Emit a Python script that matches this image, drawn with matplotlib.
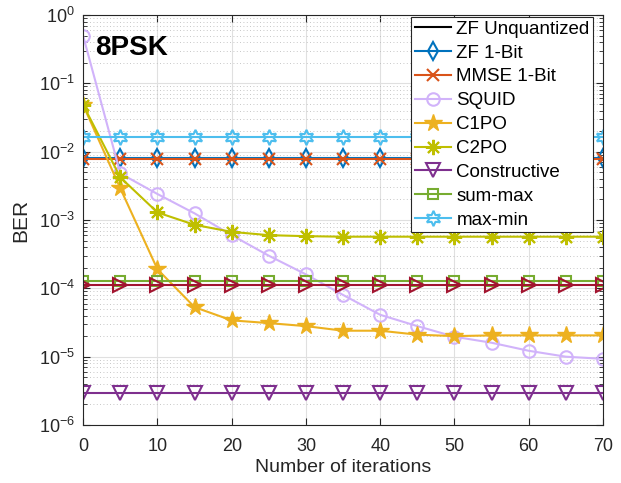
import numpy as np
import matplotlib.pyplot as plt

plt.rcParams['font.family'] = ['Liberation Sans', 'DejaVu Sans']

# iterations where the markers sit
iters = np.arange(0, 75, 5)

# BER values
zf_unq = [np.nan] * len(iters)          # below the plotted range
zf_1bit = [0.0082] * len(iters)
mmse_1bit = [0.0079] * len(iters)
squid = [0.49, 0.0048, 0.0024, 0.00125, 0.0006, 0.00030, 0.00016, 8.0e-5,
         4.1e-5, 2.8e-5, 1.96e-5, 1.6e-5, 1.22e-5, 1.0e-5, 9.3e-6]
c1po = [0.048, 0.0029, 0.00019, 5.3e-5, 3.4e-5, 3.1e-5, 2.8e-5, 2.4e-5,
        2.4e-5, 2.1e-5, 2.0e-5, 2.05e-5, 2.05e-5, 2.05e-5, 2.05e-5]
c2po = [0.048, 0.0042, 0.00129, 0.00085, 0.00067, 0.00060, 0.00058, 0.00057,
        0.00057, 0.00057, 0.00057, 0.00057, 0.00057, 0.00057, 0.00057]
constructive = [2.9e-6] * len(iters)
sum_max = [1.3e-4] * len(iters)
max_min = [0.0165] * len(iters)
extra = [1.12e-4] * len(iters)          # dark red curve, not in legend

fig = plt.figure(figsize=(6.21, 4.83), dpi=100)
ax = fig.add_axes([0.134, 0.12, 0.837, 0.849])

lw = 1.5
ms = 9
ax.semilogy(iters, zf_unq, color='k', lw=lw, label='ZF Unquantized')
ax.semilogy(iters, zf_1bit, color=(0, 0.447, 0.741), lw=lw, marker='d', ms=ms,
            mfc='none', mew=lw, label='ZF 1-Bit')
ax.semilogy(iters, mmse_1bit, color=(0.85, 0.325, 0.098), lw=lw, marker='x', ms=ms - 1,
            mew=lw, label='MMSE 1-Bit')
ax.semilogy(iters, squid, color=(0.82, 0.70, 0.98), lw=lw, marker='o', ms=ms,
            mfc='none', mew=lw, label='SQUID')
ax.semilogy(iters, c1po, color=(0.929, 0.694, 0.125), lw=lw, marker='*', ms=ms + 4,
            mew=1, label='C1PO')
ax.semilogy(iters, c2po, color=(0.75, 0.75, 0.0), lw=lw, marker=(8, 2, 0), ms=ms + 2,
            mew=lw, label='C2PO')
ax.semilogy(iters, constructive, color=(0.494, 0.184, 0.556), lw=lw, marker='v', ms=ms + 1,
            mfc='none', mew=lw, label='Constructive')
ax.semilogy(iters, sum_max, color=(0.466, 0.674, 0.188), lw=lw, marker='s', ms=ms - 2,
            mfc='none', mew=lw, label='sum-max')
ax.semilogy(iters, max_min, color=(0.301, 0.745, 0.933), lw=lw, marker=(6, 1, 0), ms=ms + 2,
            mfc='none', mew=lw, label='max-min')
ax.semilogy(iters, extra, color=(0.635, 0.078, 0.184), lw=lw, marker='>', ms=ms + 1,
            mfc='none', mew=lw, label='_nolegend_')

ax.set_xlim(0, 70)
ax.set_ylim(1e-6, 1)
ax.set_xticks(np.arange(0, 80, 10))
ax.tick_params(which='both', direction='in', top=True, right=True, labelsize=13,
               colors='#262626')
ax.tick_params(which='major', length=5)
ax.tick_params(which='minor', length=3)
ax.tick_params(axis='x', pad=9)
ax.tick_params(axis='y', pad=6)
ax.grid(True, which='major', color='#e0e0e0', lw=0.8)
ax.grid(True, which='minor', axis='y', color='#b4b4b4', ls=(0, (1, 3)), lw=0.6)
ax.set_axisbelow(True)
for s in ax.spines.values():
    s.set_color('#262626')

ax.set_xlabel('Number of iterations', fontsize=14, color='#262626', labelpad=3)
ax.set_ylabel('BER', fontsize=15, color='#262626', labelpad=6)
ax.text(0.022, 0.95, '8PSK', transform=ax.transAxes, fontsize=20, fontweight='bold',
        va='top', ha='left')

leg = ax.legend(loc='upper right', bbox_to_anchor=(0.985, 1.0), fontsize=13.5,
                fancybox=False, framealpha=1, edgecolor='#262626', borderpad=0.2,
                labelspacing=0.36, handlelength=1.9, handletextpad=0.3, borderaxespad=0.1)
leg.get_frame().set_linewidth(0.8)

fig.savefig('out.png', dpi=100)
